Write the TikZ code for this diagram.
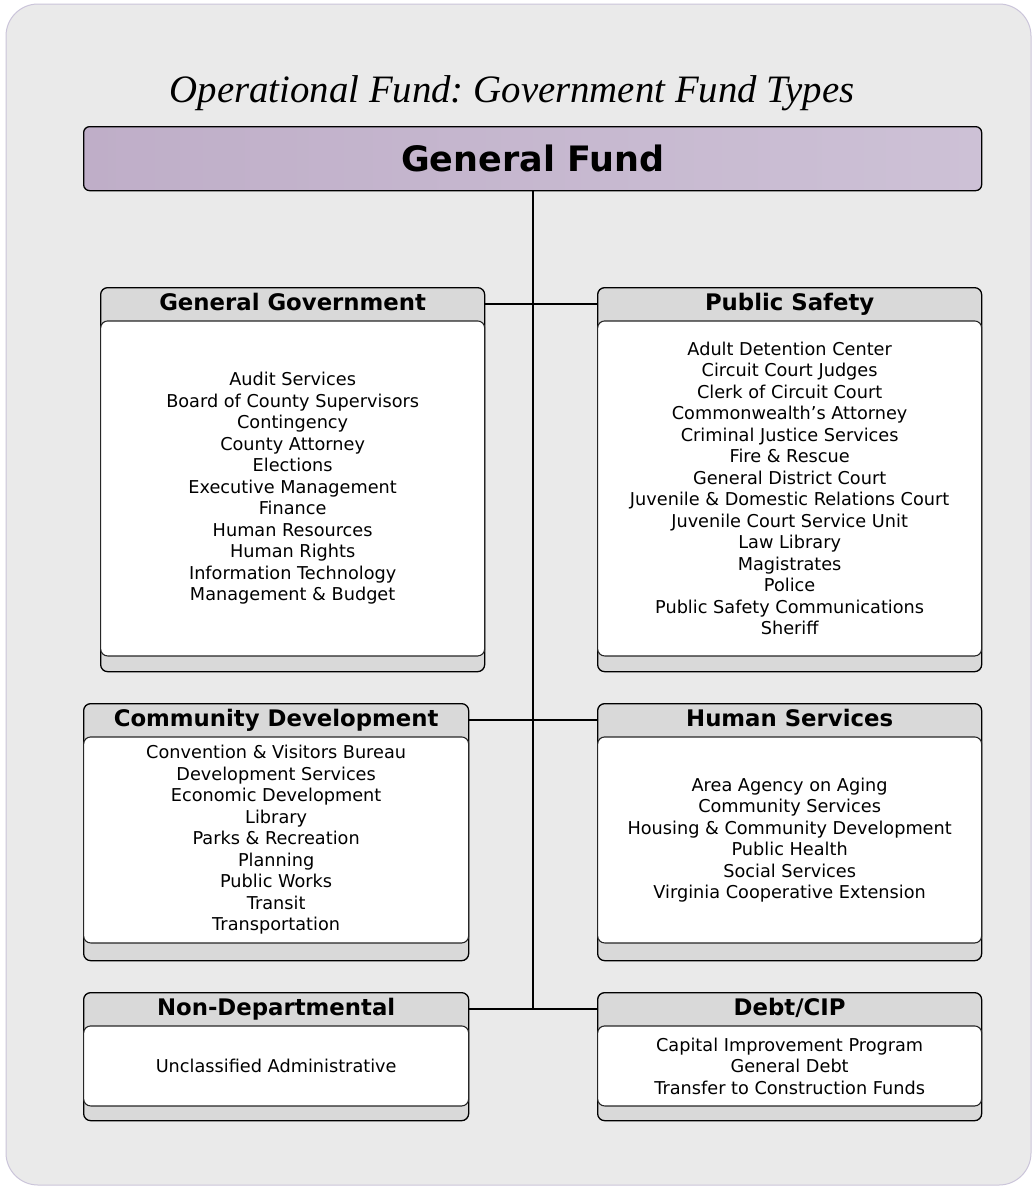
\documentclass[tikz,border=0pt]{standalone}
\usepackage{fontspec}
\setsansfont{DejaVu Sans}
\newfontfamily\titlefont{Liberation Serif}
\usetikzlibrary{positioning}
\definecolor{panel}{HTML}{EAEAEA}
\definecolor{panelline}{HTML}{CBC5DA}
\definecolor{fundL}{HTML}{BFAEC8}
\definecolor{fundR}{HTML}{CDC1D6}
\definecolor{headgray}{HTML}{D9D9D9}

\tikzset{
    deptframe/.style={draw=black, line width=1.3pt, fill=headgray, rounded corners=7pt, inner sep=0pt},
    depthead/.style={inner sep=0pt, text height=16.6pt, text depth=2.3pt,
        font=\sffamily\bfseries\fontsize{22.8}{26}\selectfont},
    deptitems/.style={draw=black!85, line width=1.1pt, fill=white, rounded corners=7pt, inner sep=0pt,
        align=center, font=\sffamily\fontsize{17.7}{21.5}\selectfont},
    fundbox/.style={draw=black, line width=1.3pt, rounded corners=6pt, left color=fundL, right color=fundR,
        inner sep=0pt, font=\sffamily\bfseries\fontsize{35}{40}\selectfont},
    link/.style={line width=1.7pt},
    spine/.style={line width=2.2pt},
}

% #1 name, #2 top left, #3 width, #4 list height, #5 full height, #6 title, #7 items
\newcommand{\dept}[7]{%
    \node[deptframe, minimum width=#3, minimum height=#5, anchor=north west] (#1) at #2 {};
    \node[depthead, minimum width=#3, minimum height=33, anchor=north] (#1-head) at (#1.north) {#6};
    \node[deptitems, minimum width=#3, minimum height=#4, anchor=north] (#1-list) at (#1-head.south) {#7};
}

\begin{document}
\frenchspacing
\begin{tikzpicture}[x=1pt, y=-1pt]
    \useasboundingbox (0,0) rectangle (1032,1186);
    \fill[white] (0,0) rectangle (1032,1186);
    \draw[panelline, fill=panel, line width=1pt, rounded corners=32pt] (6,4) rectangle (1031,1185);

    \node[anchor=base, font=\titlefont\itshape\fontsize{38.8}{44}\selectfont] (title) at (512,102)
        {Operational Fund: Government Fund Types};
    \node[fundbox, minimum width=898, minimum height=64, anchor=north west] (genfund) at (83,126) {General Fund};

    \dept{gengov}{(100,287)}{384}{335}{384}{General Government}
        {Audit Services\\Board of County Supervisors\\Contingency\\County Attorney\\Elections\\
         Executive Management\\Finance\\Human Resources\\Human Rights\\Information Technology\\
         Management \& Budget}
    \dept{pubsafe}{(597,287)}{384}{335}{384}{Public Safety}
        {Adult Detention Center\\Circuit Court Judges\\Clerk of Circuit Court\\Commonwealth's Attorney\\
         Criminal Justice Services\\Fire \& Rescue\\General District Court\\
         Juvenile \& Domestic Relations Court\\Juvenile Court Service Unit\\Law Library\\Magistrates\\
         Police\\Public Safety Communications\\Sheriff}
    \dept{commdev}{(83,703)}{385}{206}{257}{Community Development}
        {Convention \& Visitors Bureau\\Development Services\\Economic Development\\Library\\
         Parks \& Recreation\\Planning\\Public Works\\Transit\\Transportation}
    \dept{humserv}{(597,703)}{384}{206}{257}{Human Services}
        {Area Agency on Aging\\Community Services\\Housing \& Community Development\\Public Health\\
         Social Services\\Virginia Cooperative Extension}
    \dept{nondept}{(83,992)}{385}{80}{128}{Non-Departmental}
        {Unclassified Administrative}
    \dept{debtcip}{(597,992)}{384}{80}{128}{Debt/CIP}
        {Capital Improvement Program\\General Debt\\Transfer to Construction Funds}

    % trunk and branches
    \draw[spine] (genfund.south) -- (genfund.south |- nondept-head.east);
    \draw[link] (gengov-head.east) -- (pubsafe-head.west);
    \draw[link] (commdev-head.east) -- (humserv-head.west);
    \draw[link] (nondept-head.east) -- (debtcip-head.west);
\end{tikzpicture}
\end{document}
